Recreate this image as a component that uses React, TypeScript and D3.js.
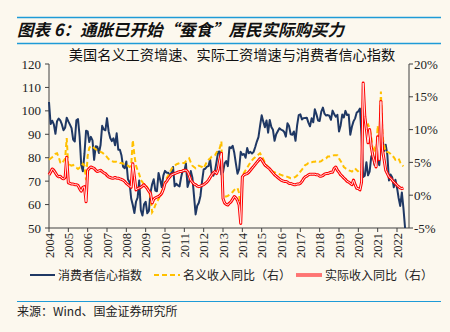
import React from "react";
import * as d3 from "d3";

// ---- DATA (monthly, starting Jan 2004) ----
const years = ["2004","2005","2006","2007","2008","2009","2010","2011","2012","2013","2014","2015","2016","2017","2018","2019","2020","2021","2022"];
const leftTicks = [50, 60, 70, 80, 90, 100, 110, 120];
const rightTicks = [-5, 0, 5, 10, 15, 20];
const seriesNames = ["消费者信心指数", "名义收入同比（右）", "实际收入同比（右）"];

const sentiment = [
  103.8, 94.4, 95.8, 94.2, 90.2, 95.6, 96.7, 95.9, 94.2, 91.7, 92.8, 97.1,
  95.5, 94.1, 92.6, 87.7, 86.9, 96.0, 96.5, 89.1, 76.9, 74.2, 81.6, 91.5,
  91.2, 86.7, 88.9, 87.4, 79.1, 84.9, 84.7, 82.0, 85.4, 93.6, 92.1, 91.7,
  96.9, 91.3, 88.4, 87.1, 88.3, 85.3, 90.4, 83.4, 83.4, 80.9, 76.1, 75.5,
  78.4, 70.8, 69.5, 62.6, 59.8, 56.4, 61.2, 63.0, 70.3, 57.6, 55.3, 60.1,
  61.2, 56.3, 57.3, 65.1, 68.7, 70.8, 66.0, 65.7, 73.5, 70.6, 67.4, 72.5,
  74.4, 73.6, 73.6, 72.2, 73.6, 76.0, 67.8, 68.9, 68.2, 67.7, 71.6, 74.5,
  74.2, 77.5, 67.5, 69.8, 74.3, 71.5, 63.7, 55.8, 59.5, 60.8, 63.7, 69.9,
  75.0, 75.3, 76.2, 76.4, 79.3, 73.2, 72.3, 74.3, 78.3, 82.6, 82.7, 72.9,
  73.8, 77.6, 78.6, 76.4, 84.5, 84.1, 85.1, 82.1, 77.5, 73.2, 75.1, 82.5,
  81.2, 81.6, 80.0, 84.1, 81.9, 82.5, 81.8, 82.5, 84.6, 86.9, 88.8, 93.6,
  98.1, 95.4, 93.0, 95.9, 90.7, 96.1, 93.1, 91.9, 87.2, 90.0, 91.3, 92.6,
  92.0, 91.7, 91.0, 89.0, 94.7, 93.5, 90.0, 89.8, 91.2, 87.2, 93.8, 98.2,
  98.5, 96.3, 96.9, 97.0, 97.1, 95.0, 93.4, 96.8, 95.1, 100.7, 98.5, 95.9,
  95.7, 99.7, 101.4, 98.8, 98.0, 98.2, 97.9, 96.2, 100.1, 98.6, 97.5, 98.3,
  91.2, 93.8, 98.4, 97.2, 100.0, 98.2, 98.4, 89.8, 93.2, 95.5, 96.8, 99.3,
  99.8, 101.0, 89.1, 71.8, 72.3, 78.1, 72.5, 74.1, 80.4, 81.8, 76.9, 80.7,
  79.0, 76.8, 84.9, 88.3, 82.9, 85.5, 81.2, 70.3, 72.8, 71.7, 67.4, 70.6,
  67.2, 62.8, 59.4, 65.2, 58.4, 50.0,
];

const nominal = [
  5.4, 5.6, 5.8, 6.0, 6.3, 6.4, 5.8, 5.0, 4.8, 5.2, 5.6, 8.7,
  4.3, 4.6, 4.5, 4.6, 4.3, 4.2, 4.0, 4.2, 4.3, 4.8, 4.5, 2.3,
  6.0, 7.2, 7.5, 7.4, 7.2, 7.0, 6.8, 6.7, 6.6, 6.5, 6.3, 6.1,
  5.8, 5.5, 5.3, 5.2, 5.1, 5.1, 5.1, 5.0, 4.9, 4.9, 4.8, 4.8,
  4.6, 4.5, 4.3, 4.5, 8.4, 6.1, 4.5, 3.8, 3.2, 2.3, 2.0, 1.6,
  1.5, 1.2, 0.6, -0.3, -2.6, -2.2, -1.5, -1.0, -0.6, 0.0, 0.6, 1.1,
  2.0, 2.6, 3.0, 3.5, 4.0, 4.3, 4.5, 4.7, 4.8, 4.9, 4.9, 4.9,
  4.9, 5.2, 5.4, 5.6, 5.0, 4.5, 4.3, 4.1, 4.3, 4.5, 4.4, 4.3,
  4.1, 4.6, 5.1, 5.4, 5.6, 5.9, 6.0, 6.1, 6.5, 6.9, 7.2, 8.2,
  0.0, -0.2, -0.2, -0.1, 0.1, 0.3, 0.5, 0.8, 1.0, 1.1, 0.3, -3.3,
  3.0, 3.4, 3.8, 4.2, 4.6, 5.0, 5.3, 5.6, 5.8, 6.0, 6.2, 6.4,
  6.0, 5.5, 5.0, 4.6, 4.3, 4.0, 3.8, 3.6, 3.5, 3.4, 3.3, 3.2,
  3.1, 3.0, 2.9, 2.9, 2.8, 2.7, 2.6, 2.6, 2.7, 2.8, 3.0, 3.3,
  3.6, 3.9, 4.2, 4.6, 4.7, 4.9, 4.9, 5.0, 5.1, 5.1, 5.2, 5.2,
  5.1, 5.2, 5.4, 5.5, 5.6, 5.9, 5.9, 6.0, 6.0, 6.1, 6.1, 6.1,
  5.6, 5.2, 4.8, 4.3, 4.1, 3.9, 3.8, 3.7, 3.6, 3.9, 4.1, 3.8,
  3.6, 3.3, 3.1, 16.5, 11.5, 10.6, 10.8, 10.2, 8.9, 6.6, 7.1, 6.0,
  10.6, 8.1, 15.8, 8.9, 7.6, 6.6, 6.6, 6.5, 6.3, 6.0, 5.8, 5.4,
  5.5, 5.6, 5.0, 4.6, 4.4,
];

const real = [
  3.1, 3.5, 4.0, 3.8, 3.4, 3.0, 2.8, 2.9, 2.6, 2.5, 2.7, 5.8,
  1.9, 1.8, 1.7, 1.7, 1.6, 1.6, 1.5, 1.0, 0.6, 1.2, 1.3, -1.0,
  3.8, 4.1, 4.3, 4.2, 4.1, 3.8, 3.6, 3.7, 3.8, 3.6, 3.4, 3.3,
  3.0, 2.8, 2.7, 2.6, 2.6, 2.7, 2.6, 2.6, 2.5, 2.4, 2.3, 2.1,
  1.8, 1.6, 1.4, 1.2, 4.8, 2.8, 0.8, 1.0, 1.1, 1.2, 1.4, 1.6,
  1.3, 1.0, 0.6, 0.3, -1.2, -0.6, -0.4, -0.3, -0.2, 0.0, 0.3, 0.9,
  1.8, 2.1, 2.5, 2.8, 3.1, 3.2, 3.3, 3.4, 3.5, 3.6, 3.6, 3.7,
  3.8, 3.8, 3.6, 3.0, 2.3, 2.0, 1.7, 1.6, 1.4, 1.3, 1.4, 1.5,
  1.6, 1.8, 2.0, 2.3, 2.7, 3.1, 3.4, 3.6, 3.3, 3.9, 5.4, 6.4,
  -0.5, -1.2, -1.4, -1.5, -1.2, -1.0, -0.6, -0.2, -0.4, -0.8, -1.5, -4.3,
  2.8, 3.1, 3.2, 3.3, 3.5, 3.8, 4.1, 4.4, 4.7, 5.0, 5.3, 5.6,
  5.4, 5.0, 4.6, 4.4, 4.2, 4.0, 3.7, 3.4, 3.1, 2.9, 2.7, 2.5,
  2.3, 2.2, 2.1, 2.1, 2.0, 1.8, 1.8, 1.7, 1.6, 1.6, 1.7, 1.7,
  1.8, 2.1, 2.5, 2.8, 2.9, 3.1, 3.2, 3.2, 3.2, 3.2, 3.1, 3.1,
  2.9, 2.9, 3.0, 3.2, 3.3, 3.3, 3.4, 3.5, 3.5, 4.1, 4.3, 3.8,
  3.5, 3.1, 2.9, 2.6, 2.4, 2.1, 2.0, 1.8, 1.6, 2.3, 1.6, 1.05,
  1.0, 0.8, 2.0, 17.1, 12.0, 10.0, 8.0, 10.0, 7.4, 6.0, 5.1, 4.3,
  8.9, 5.4, 14.3, 6.9, 5.4, 3.8, 3.3, 2.8, 2.6, 2.3, 2.0, 1.8,
  1.5, 1.3, 1.1, 1.0, 1.1,
];

const W = 450, H = 332;
const plot = { left: 49, right: 409, top: 64, bottom: 228 };
const START = 2004;

export default function App() {
  const x = d3.scaleLinear().domain([2004, 2022.62]).range([plot.left, plot.right]);
  const yL = d3.scaleLinear().domain([50, 120]).range([plot.bottom, plot.top]);
  const yR = d3.scaleLinear().domain([-5, 20]).range([plot.bottom, plot.top]);
  const t = (i: number) => START + i / 12;

  const lineL = d3.line<number>().x((_, i) => x(t(i))).y((d) => yL(d));
  const lineR = d3.line<number>().x((_, i) => x(t(i))).y((d) => yR(d));

  const serif = "'Liberation Serif', 'DejaVu Serif', serif";
  const cjk = "'Noto Sans CJK SC', sans-serif";
  const axisColor = "#404040";
  const blue = "#1E9BD7";

  return (
    <svg width={W} height={H} style={{ position: "absolute", left: 0, top: 0, display: "block" }}>
      <rect x={0} y={0} width={W} height={H} fill="#FCF8EE" />
      {/* header */}
      <line x1={17} x2={441} y1={17.5} y2={17.5} stroke={blue} strokeWidth={1.5} />
      <text x={17} y={36} fontFamily={cjk} fontSize={16.5} fontWeight="bold" fontStyle="italic" fill="#111">
        图表 6：通胀已开始“蚕食”居民实际购买力
      </text>
      <line x1={17} x2={441} y1={43.5} y2={43.5} stroke={blue} strokeWidth={1.5} />

      {/* chart title */}
      <text x={232} y={60} textAnchor="middle" fontFamily={cjk} fontSize={14.2} fill="#111">
        美国名义工资增速、实际工资增速与消费者信心指数
      </text>

      {/* left axis */}
      <line x1={plot.left} x2={plot.left} y1={plot.top} y2={plot.bottom} stroke={axisColor} strokeWidth={1} />
      {leftTicks.map((v) => (
        <g key={"l" + v}>
          <line x1={plot.left - 4} x2={plot.left} y1={yL(v)} y2={yL(v)} stroke={axisColor} />
          <text x={plot.left - 8} y={yL(v) + 4.5} textAnchor="end" fontFamily={serif} fontSize={13} fill="#222">
            {v}
          </text>
        </g>
      ))}
      {/* right axis */}
      <line x1={plot.right} x2={plot.right} y1={plot.top} y2={plot.bottom} stroke={axisColor} strokeWidth={1} />
      {rightTicks.map((v) => (
        <g key={"r" + v}>
          <line x1={plot.right} x2={plot.right + 4} y1={yR(v)} y2={yR(v)} stroke={axisColor} />
          <text x={plot.right + 5} y={yR(v) + 4.5} textAnchor="start" fontFamily={serif} fontSize={13} fill="#222">
            {v + "%"}
          </text>
        </g>
      ))}
      {/* bottom axis */}
      <line x1={plot.left} x2={plot.right} y1={plot.bottom} y2={plot.bottom} stroke={axisColor} strokeWidth={1} />
      {years.map((yr) => {
        const xx = x(+yr);
        return (
          <g key={yr}>
            <line x1={xx} x2={xx} y1={plot.bottom} y2={plot.bottom + 4} stroke={axisColor} />
            <text
              transform={`translate(${xx + 4.5},${plot.bottom + 5}) rotate(-90)`}
              textAnchor="end"
              fontFamily={serif}
              fontSize={12.5}
              fill="#222"
            >
              {yr}
            </text>
          </g>
        );
      })}

      {/* series */}
      <path d={lineL(sentiment) || ""} fill="none" stroke="#1F3864" strokeWidth={2} strokeLinejoin="round" />
      <path d={lineR(nominal) || ""} fill="none" stroke="#FFC000" strokeWidth={2} strokeDasharray="5,3" />
      <path d={lineR(real) || ""} fill="none" stroke="#FF0000" strokeWidth={3} strokeLinejoin="round" />
      <path d={lineR(real) || ""} fill="none" stroke="#FFE8E8" strokeWidth={1} strokeLinejoin="round" />

      {/* legend */}
      <line x1={30} x2={55} y1={275} y2={275} stroke="#1F3864" strokeWidth={2} />
      <text x={58} y={279.5} fontFamily={cjk} fontSize={12} fill="#222">{seriesNames[0]}</text>
      <line x1={154} x2={180} y1={275} y2={275} stroke="#FFC000" strokeWidth={2} strokeDasharray="5,3" />
      <text x={183} y={279.5} fontFamily={cjk} fontSize={12} fill="#222">{seriesNames[1]}</text>
      <line x1={296} x2={322} y1={275} y2={275} stroke="#FF0000" strokeWidth={3} />
      <line x1={296} x2={322} y1={275} y2={275} stroke="#FFE8E8" strokeWidth={1} />
      <text x={325} y={279.5} fontFamily={cjk} fontSize={12} fill="#222">{seriesNames[2]}</text>

      {/* source */}
      <line x1={17} x2={441} y1={301.5} y2={301.5} stroke={blue} strokeWidth={1.2} />
      <text x={17} y={316} fontFamily={cjk} fontSize={12} fill="#222">来源：Wind、国金证券研究所</text>
    </svg>
  );
}
